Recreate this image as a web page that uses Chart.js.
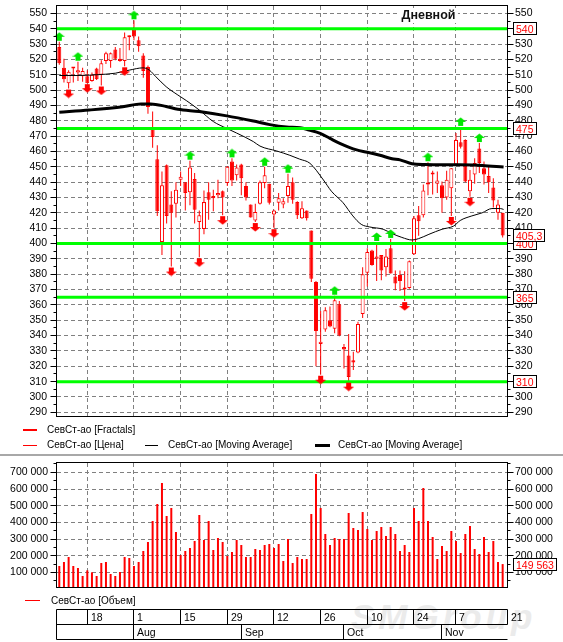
<!DOCTYPE html>
<html lang="ru"><head><meta charset="utf-8">
<title>СевСт-ао</title>
<script src="https://cdn.jsdelivr.net/npm/chart.js@4.4.1/dist/chart.umd.min.js"></script>
<style>
html,body{margin:0;padding:0;background:#fff}
body{width:563px;height:642px;position:relative;overflow:hidden;font-family:"Liberation Sans",Arial,sans-serif}
canvas{position:absolute;left:0;z-index:1}
#wm{position:absolute;left:351px;top:597px;font-family:"Liberation Sans",Arial,sans-serif;font-style:italic;font-weight:bold;font-size:35px;letter-spacing:4px;color:#ebebeb;z-index:0;line-height:40px}
.lg{position:absolute;font-size:10px;line-height:12px;white-space:nowrap;color:#000;z-index:2}
.sw{position:absolute;z-index:2}
#sep{position:absolute;left:0;top:454px;width:563px;height:2px;background:#a8a8a8;z-index:0}
</style></head><body>
<div id="wm">SMGroup</div>
<div id="sep"></div>
<canvas id="c1" width="563" height="456" style="top:0;width:563px;height:456px"></canvas>
<canvas id="c2" width="563" height="186" style="top:456px;width:563px;height:186px"></canvas>
<div class="sw" style="left:23px;top:429px;width:14px;height:2px;background:#f00"></div>
<div class="lg" style="left:47px;top:424px">СевСт-ао [Fractals]</div>
<div class="sw" style="left:23px;top:445px;width:14px;height:1px;background:#f00"></div>
<div class="lg" style="left:47px;top:439px">СевСт-ао [Цена]</div>
<div class="sw" style="left:145px;top:445px;width:13px;height:1px;background:#000"></div>
<div class="lg" style="left:168px;top:439px">СевСт-ао [Moving Average]</div>
<div class="sw" style="left:315px;top:444px;width:15px;height:3px;background:#000"></div>
<div class="lg" style="left:338px;top:439px">СевСт-ао [Moving Average]</div>
<div class="sw" style="left:25px;top:600px;width:15px;height:1px;background:#f00"></div>
<div class="lg" style="left:51px;top:595px">СевСт-ао [Объем]</div>
<script>
// ---------- data ----------
const title = 'Дневной';
const days = ['18','1','15','29','12','26','10','24','7','21'];
const dayIdx = [6,16,26,36,46,56,66,76,85,96];
const months = ['Aug','Sep','Oct','Nov'];
const monthIdx = [16,39,61,82];
const priceTicks = [290,300,310,320,330,340,350,360,370,380,390,400,410,420,430,440,450,460,470,480,490,500,510,520,530,540,550];
const volTicks = [100000,200000,300000,400000,500000,600000,700000];

const open = [528,514.5,504.5,514,511.5,509,509,506,514,510,
  519,519,526.5,520.5,519,534.5,539.5,532.5,522.5,515,
  474.5,455,401,451,425.5,426,441.5,440,433.5,442,
  414,409.5,433.5,431,431.5,434,439.5,453.5,444.5,451.5,
  437.5,425.5,415,426,439.5,439,419,426.5,425.5,431,
  440,427,416.5,421.5,408.5,375,334.5,344,350,344.5,
  360.5,332.5,327,324,329,354,381,395.5,390,392.5,
  384.5,397,378.5,379.5,370,371,393,418.5,418.5,439,
  445.5,439,438,430,436,451.5,466,467.5,434,445,
  462,449,444,436.5,420,420];
const high = [531.5,520.5,513,514.5,518.5,514.5,513,511.5,514.5,519.5,
  525,524.5,528,527.5,537.5,535.5,545.5,535,524,516,
  486,464,447,451.5,434,440,447,440,454,446,
  421.5,434.5,440,435,441.5,434.5,450.5,455.5,451.5,452,
  440,425.5,426,441,450,439,422,433,429.5,445.5,
  443,427.5,427.5,421.5,408.5,375.5,356,358.5,359,366,
  362.5,334.5,341,329.5,349,384.5,397,396,401,392.5,
  396.5,403,382.5,382.5,382,389,418,424.5,438.5,453,
  447.5,447,440.5,447.5,449,472,476,468,448,455.5,
  465.5,453.5,450,442.5,428.5,420];
const low = [516.5,505,501,505,506,505.5,504.5,505.5,506.5,503,
  517,514.5,519.5,518.5,515.5,526,532.5,525,508,484.5,
  462.5,418,392.5,413,385,417,437.5,421.5,425,413,
  391,406,415.5,421,429.5,418.5,437.5,437.5,441,431.5,
  428,417,414,425.5,436,425.5,410,421.5,423,426.5,
  426,416,416,415,375,320,314.5,342.5,345.5,341.5,
  339.5,318.5,310,317.5,328.5,351.5,372,385.5,375.5,376,
  378.5,380.5,369.5,369,362.5,370.5,392.5,405,417,431.5,
  432,433,420,428.5,418,450.5,462,440,430.5,439,
  446,438.5,433,423.5,415.5,404];
const close = [517.5,507,512,514.5,513,512.5,504.5,510,507,517.5,
  524,524,520.5,519,534.5,535.5,535,528.5,512.5,489,
  469.5,421,438,418,420,435,443.5,433,449.5,422,
  418.5,427,428.5,429.5,433,430,450,441,449.5,442.5,
  430,417,420.5,440,444.5,426.5,421.5,429.5,427.5,437.5,
  428.5,418.5,423,416.5,377,343,336,356.5,346,363,
  340,331,313,322.5,347.5,380,394.5,386,391.5,382.5,
  391.5,380.5,374,375.5,371,388.5,416.5,414.5,434.5,438.5,
  445,441,429.5,441.5,449,467.5,463,440.5,441.5,452.5,
  452.5,445,440,428,425.5,405.3];
const volume = [138000,162000,192000,138000,126000,78000,112000,100000,78000,156000,
  162000,90000,78000,102000,192000,186000,138000,162000,228000,282000,
  408000,510000,636000,438000,486000,342000,204000,228000,246000,288000,
  444000,294000,408000,234000,306000,282000,198000,222000,294000,264000,
  192000,192000,240000,234000,264000,270000,246000,270000,168000,300000,
  156000,192000,180000,180000,450000,690000,486000,330000,264000,306000,
  300000,300000,456000,366000,354000,462000,360000,294000,348000,372000,
  318000,372000,330000,228000,264000,222000,486000,408000,606000,408000,
  312000,180000,258000,228000,348000,288000,216000,330000,378000,240000,
  210000,312000,222000,288000,162000,149563];

const fractalUp = [0,4,16,28,37,44,49,59,68,71,79,86,90];
const fractalDown = [2,6,9,14,24,30,35,42,46,56,62,74,84,88];

const maFastX = [0,4,8,12,15,18,19.3,20.7,22.9,25.4,27.3,30,33,35.9,38,41.6,43,46.6,49.4,51.5,53.7,56.6,58.3,60.8,62.9,64.7,66.5,69.4,71.3,73.4,75.6,77,79.2,82,84.5,85.9,88.4,90.6,92.7,94.5,95.2];
const maFastY = [509.5,509.5,510,511,513,514.5,513,508.7,502.2,496.8,493,487,479.5,475,472,466.4,463.5,460.3,457.5,455,452.3,441.4,434.1,426.6,418,412.5,410.8,409.3,406.5,404,402.3,403.2,406,409.3,411.4,415,418,420,422.8,422.8,422.2];
const maSlowX = [0,6.4,13.6,17.5,19.6,22.9,25.4,30,35.9,41.6,45.1,48.7,51.6,53.5,55.9,58,60.1,63.7,66,68.7,71.3,73,75.6,78.4,85.6,90.6,95.2];
const maSlowY = [485.5,487,489.2,491,491,489.3,487.5,486,483.2,479.8,477.5,476,475.5,474,471.8,468.5,465.3,461,459.5,457.5,455.3,454.5,452,451.5,451.3,450.9,449.8];

const levels = [540,475,400,365,310];
const lastPrice = 405.3;
const lastPriceLabel = '405,3';

// ---------- setup ----------
const FF = '"Liberation Sans", Arial, sans-serif';
Chart.defaults.font.family = FF;
Chart.defaults.color = '#000';
const X_MIN = -0.49, X_MAX = 95.93;
const P_MIN = 287.6, P_MAX = 554.8;
const V_MIN = 12000, V_MAX = 756000;
const GRID = '#808080';
const idx = open.map((_, i) => i);

function fitW(w) {
  return s => { s.width = w; s.paddingTop = 0; s.paddingBottom = 0; s.paddingLeft = 0; s.paddingRight = 0; };
}
function fitX(s) { s.height = 0; s.paddingTop = 0; s.paddingBottom = 0; s.paddingLeft = 0; s.paddingRight = 0; }
function fmtVol(v) { return String(Math.round(v)).replace(/\B(?=(\d{3})+(?!\d))/g, ' '); }
function al(p) { return Math.round(p - 0.5) + 0.5; }

function arrowCanvas(up, color) {
  const c = document.createElement('canvas');
  c.width = 11; c.height = 20;
  const g = c.getContext('2d');
  g.fillStyle = color;
  g.beginPath();
  if (up) {
    g.moveTo(5.5, 0.5); g.lineTo(11, 5); g.lineTo(0, 5); g.closePath(); g.fill();
    g.fillRect(3, 5, 5, 4);
  } else {
    g.fillRect(3, 11, 5, 4);
    g.moveTo(0, 15); g.lineTo(11, 15); g.lineTo(5.5, 19.5); g.closePath(); g.fill();
  }
  return c;
}
const upArrow = arrowCanvas(true, '#00e600');
const downArrow = arrowCanvas(false, '#ff0000');

function valueBox(ctx, text, x, y) {
  ctx.font = '10.5px ' + FF;
  const w = Math.round(ctx.measureText(text).width) + 6;
  const h = 13;
  const top = Math.round(y - h / 2);
  ctx.fillStyle = '#fff';
  ctx.fillRect(x, top, w, h);
  ctx.strokeStyle = '#000'; ctx.lineWidth = 1;
  ctx.strokeRect(x + 0.5, top + 0.5, w - 1, h - 1);
  ctx.fillStyle = '#ff0000';
  ctx.textAlign = 'left'; ctx.textBaseline = 'alphabetic';
  ctx.fillText(text, x + 3, top + 10.5);
}

function tickMarks(ctx, a, scale, from, to, step, majorEvery) {
  ctx.strokeStyle = '#000'; ctx.lineWidth = 1;
  ctx.beginPath();
  for (let v = from; v <= to + 1e-6; v += step) {
    const p = scale.getPixelForValue(v);
    if (p < a.top - 0.5 || p > a.bottom + 0.5) continue;
    const py = al(p);
    const major = Math.abs(v / majorEvery - Math.round(v / majorEvery)) < 1e-6;
    const len = major ? 6 : 3;
    ctx.moveTo(a.left - 0.5 - len, py); ctx.lineTo(a.left - 0.5, py);
    ctx.moveTo(a.right + 0.5, py); ctx.lineTo(a.right + 0.5 + len, py);
  }
  ctx.stroke();
  ctx.strokeRect(a.left - 0.5, a.top - 0.5, a.right - a.left + 1, a.bottom - a.top + 1);
}

const deco1 = {
  id: 'deco1',
  afterDraw(chart) {
    const ctx = chart.ctx, a = chart.chartArea, y = chart.scales.y;
    ctx.save();
    tickMarks(ctx, a, y, 290, 550, 5, 10);
    // title
    ctx.font = 'bold 12.5px ' + FF;
    const tw = ctx.measureText(title).width;
    ctx.fillStyle = '#fff';
    ctx.fillRect(399, 8, tw + 5, 15);
    ctx.fillStyle = '#111';
    ctx.textAlign = 'left'; ctx.textBaseline = 'alphabetic';
    ctx.fillText(title, 401.5, 18.5);
    // right value boxes
    levels.forEach(v => valueBox(ctx, String(v), a.right + 6, y.getPixelForValue(v)));
    valueBox(ctx, lastPriceLabel, a.right + 6, y.getPixelForValue(lastPrice));
    ctx.restore();
  }
};

const deco2 = {
  id: 'deco2',
  afterDraw(chart) {
    const ctx = chart.ctx, a = chart.chartArea, y = chart.scales.y, x = chart.scales.x;
    ctx.save();
    tickMarks(ctx, a, y, 50000, 750000, 50000, 100000);
    valueBox(ctx, fmtVol(volume[volume.length - 1]), a.right + 6, y.getPixelForValue(volume[volume.length - 1]));
    // date table
    const tTop = 153.5, tMid = 168.5, tBot = 183.5;
    const L = a.left - 0.5, R = a.right + 0.5;
    ctx.strokeStyle = '#000'; ctx.lineWidth = 1;
    ctx.beginPath();
    ctx.moveTo(L, tTop); ctx.lineTo(R, tTop);
    ctx.moveTo(L, tMid); ctx.lineTo(R, tMid);
    ctx.moveTo(L, tBot); ctx.lineTo(R, tBot);
    ctx.moveTo(L, tTop); ctx.lineTo(L, tBot);
    const dayPx = dayIdx.map(d => al(Math.min(x.getPixelForValue(d), a.right + 1)));
    const monPx = monthIdx.map(m => al(x.getPixelForValue(m)));
    dayPx.forEach(p => { ctx.moveTo(p, tTop); ctx.lineTo(p, tMid); });
    monPx.forEach(p => { ctx.moveTo(p, tMid); ctx.lineTo(p, tBot); });
    ctx.stroke();
    ctx.font = '10.5px ' + FF;
    ctx.fillStyle = '#000';
    ctx.textAlign = 'left'; ctx.textBaseline = 'alphabetic';
    days.forEach((t, k) => ctx.fillText(t, dayPx[k] + 3.5, 165));
    months.forEach((t, k) => ctx.fillText(t, monPx[k] + 3.5, 179.5));
    ctx.restore();
  }
};

function xScale() {
  return {
    type: 'linear', min: X_MIN, max: X_MAX, offset: false,
    grid: { offset: false, color: GRID, lineWidth: 1, drawTicks: false },
    border: { display: false, dash: [4, 3] },
    ticks: { display: false },
    afterBuildTicks: s => { s.ticks = dayIdx.filter(v => v < X_MAX).map(v => ({ value: v })); },
    afterFit: fitX
  };
}

// ---------- price chart ----------
new Chart(document.getElementById('c1'), {
  type: 'bar',
  data: {
    datasets: [
      {
        type: 'bar', data: idx.map(i => ({ x: i, y: [low[i], high[i]] })),
        backgroundColor: '#ff0000', borderWidth: 0, inflateAmount: 0,
        grouped: false, barPercentage: 1, categoryPercentage: 1, maxBarThickness: 1, order: 10
      },
      {
        type: 'bar', data: idx.map(i => ({ x: i, y: [Math.min(open[i], close[i]), Math.max(open[i], close[i])] })),
        backgroundColor: c => close[c.dataIndex] < open[c.dataIndex] ? '#ff0000' : '#ffffff',
        borderColor: '#ff0000', borderWidth: 1, borderSkipped: false, inflateAmount: 0,
        grouped: false, barPercentage: 1, categoryPercentage: 1, maxBarThickness: 4, minBarLength: 2, order: 9
      },
      {
        type: 'line', data: maFastX.map((v, k) => ({ x: v, y: maFastY[k] })),
        borderColor: '#000', borderWidth: 1, pointRadius: 0, cubicInterpolationMode: 'monotone', order: 8
      },
      {
        type: 'line', data: maSlowX.map((v, k) => ({ x: v, y: maSlowY[k] })),
        borderColor: '#000', borderWidth: 3, pointRadius: 0, cubicInterpolationMode: 'monotone', order: 7
      },
      ...levels.map(v => ({
        type: 'line', data: [{ x: X_MIN, y: v }, { x: X_MAX, y: v }],
        borderColor: '#00ff00', borderWidth: 3, pointRadius: 0, order: 6
      })),
      {
        type: 'line', showLine: false, data: fractalUp.map(i => ({ x: i, y: high[i] })),
        pointStyle: upArrow, pointRadius: 5, clip: false, order: 5
      },
      {
        type: 'line', showLine: false, data: fractalDown.map(i => ({ x: i, y: low[i] })),
        pointStyle: downArrow, pointRadius: 5, clip: false, order: 5
      }
    ]
  },
  options: {
    responsive: false, animation: false, devicePixelRatio: 1, events: [],
    layout: { padding: { left: 0, right: 0, top: 6, bottom: 40 } },
    plugins: { legend: { display: false }, tooltip: { enabled: false } },
    scales: {
      x: xScale(),
      y: {
        position: 'left', min: P_MIN, max: P_MAX,
        grid: { color: GRID, lineWidth: 1, drawTicks: false },
        border: { display: false, dash: [4, 3] },
        ticks: { autoSkip: false, padding: 10, font: { size: 10.5 }, color: '#000' },
        afterBuildTicks: s => { s.ticks = priceTicks.map(v => ({ value: v })); },
        afterFit: fitW(57)
      },
      y2: {
        position: 'right', min: P_MIN, max: P_MAX,
        grid: { display: false, drawTicks: false },
        border: { display: false },
        ticks: { autoSkip: false, padding: 8, font: { size: 10.5 }, color: '#000' },
        afterBuildTicks: s => { s.ticks = priceTicks.map(v => ({ value: v })); },
        afterFit: fitW(56)
      }
    }
  },
  plugins: [deco1]
});

// ---------- volume chart ----------
new Chart(document.getElementById('c2'), {
  type: 'bar',
  data: {
    datasets: [{
      data: idx.map(i => ({ x: i, y: volume[i] })),
      backgroundColor: '#ff0000', borderWidth: 0, inflateAmount: 0,
      grouped: false, barPercentage: 1, categoryPercentage: 1, maxBarThickness: 2
    }]
  },
  options: {
    responsive: false, animation: false, devicePixelRatio: 1, events: [],
    layout: { padding: { left: 0, right: 0, top: 7, bottom: 55 } },
    plugins: { legend: { display: false }, tooltip: { enabled: false } },
    scales: {
      x: xScale(),
      y: {
        position: 'left', min: V_MIN, max: V_MAX,
        grid: { color: GRID, lineWidth: 1, drawTicks: false },
        border: { display: false, dash: [4, 3] },
        ticks: { autoSkip: false, padding: 9, font: { size: 10.5 }, color: '#000', callback: v => fmtVol(v) },
        afterBuildTicks: s => { s.ticks = volTicks.map(v => ({ value: v })); },
        afterFit: fitW(57)
      },
      y2: {
        position: 'right', min: V_MIN, max: V_MAX,
        grid: { display: false, drawTicks: false },
        border: { display: false },
        ticks: { autoSkip: false, padding: 8, font: { size: 10.5 }, color: '#000', callback: v => fmtVol(v) },
        afterBuildTicks: s => { s.ticks = volTicks.map(v => ({ value: v })); },
        afterFit: fitW(56)
      }
    }
  },
  plugins: [deco2]
});
</script>
</body></html>
